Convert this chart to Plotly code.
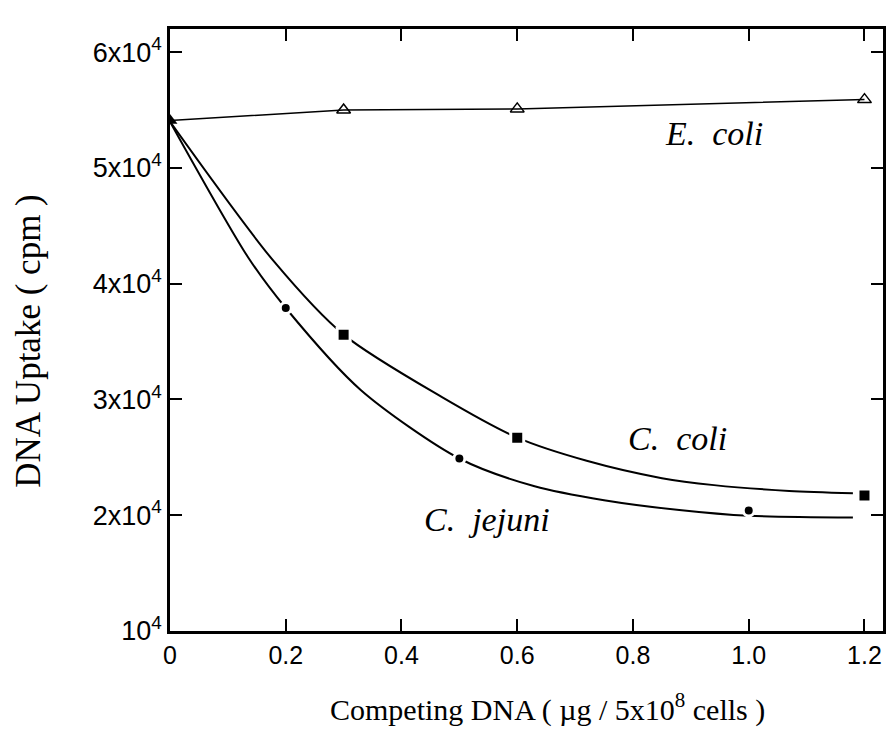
import plotly.graph_objects as go

# ---- data ----
ecoli_x = [0, 0.3, 0.6, 1.2]
ecoli_y = [54100, 55000, 55100, 55900]

ccoli_x = [0.3, 0.6, 1.2]
ccoli_y = [35600, 26700, 21700]

cjej_x = [0.2, 0.5, 1.0]
cjej_y = [37900, 24900, 20400]

# fitted (hand-drawn) curves
ccoli_fit_x = [0, 0.18, 0.3, 0.47, 0.6, 0.72, 0.85, 0.94, 1.07, 1.18]
ccoli_fit_y = [54000, 41900, 35600, 30200, 26700, 24700, 23200, 22600, 22100, 21900]

cjej_fit_x = [0, 0.136, 0.2, 0.33, 0.5, 0.63, 0.75, 0.88, 1.0, 1.18]
cjej_fit_y = [54000, 42200, 37900, 30800, 24900, 22500, 21300, 20450, 19950, 19800]

x_ticks = [0, 0.2, 0.4, 0.6, 0.8, 1.0, 1.2]
x_ticklabels = ["0", "0.2", "0.4", "0.6", "0.8", "1.0", "1.2"]
y_ticks = [10000, 20000, 30000, 40000, 50000, 60000]
y_ticklabels = ["10<sup>4</sup>", "2x10<sup>4</sup>", "3x10<sup>4</sup>",
                "4x10<sup>4</sup>", "5x10<sup>4</sup>", "6x10<sup>4</sup>"]

serif = "Liberation Serif"
sans = "Liberation Sans"

fig = go.Figure()

# curves
fig.add_trace(go.Scatter(x=ccoli_fit_x, y=ccoli_fit_y, mode="lines",
                         line=dict(color="black", width=2, shape="spline", smoothing=0.8),
                         showlegend=False, hoverinfo="skip"))
fig.add_trace(go.Scatter(x=cjej_fit_x, y=cjej_fit_y, mode="lines",
                         line=dict(color="black", width=2, shape="spline", smoothing=0.8),
                         showlegend=False, hoverinfo="skip"))
fig.add_trace(go.Scatter(x=ecoli_x, y=ecoli_y, mode="lines",
                         line=dict(color="black", width=1.5),
                         showlegend=False, hoverinfo="skip"))

# markers (white outline produces the gaps in the curves)
fig.add_trace(go.Scatter(x=ccoli_x, y=ccoli_y, mode="markers",
                         marker=dict(symbol="square", size=13, color="black",
                                     line=dict(color="white", width=3)),
                         showlegend=False))
fig.add_trace(go.Scatter(x=cjej_x, y=cjej_y, mode="markers",
                         marker=dict(symbol="circle", size=11, color="black",
                                     line=dict(color="white", width=3)),
                         showlegend=False))
fig.add_trace(go.Scatter(x=ecoli_x[1:], y=ecoli_y[1:], mode="markers",
                         marker=dict(symbol="triangle-up-open", size=12, color="black",
                                     line=dict(color="black", width=1.5)),
                         showlegend=False))
fig.add_trace(go.Scatter(x=ecoli_x[:1], y=ecoli_y[:1], mode="markers",
                         marker=dict(symbol="triangle-up", size=13, color="black"),
                         showlegend=False))

axis_common = dict(showline=True, linecolor="black", linewidth=2.5, mirror="ticks",
                   ticks="inside", ticklen=12, tickwidth=2, tickcolor="black",
                   showgrid=False, zeroline=False)

fig.update_xaxes(range=[0, 1.232], tickvals=x_ticks, ticktext=x_ticklabels,
                 tickfont=dict(family=sans, size=25, color="black"), **axis_common)
fig.update_yaxes(range=[10000, 62000], tickvals=y_ticks, ticktext=y_ticklabels,
                 tickfont=dict(family=sans, size=27, color="black"), **axis_common)

annotations = [
    dict(text="DNA Uptake ( cpm )", xref="paper", yref="paper", x=-0.228, y=0.482,
         textangle=-90, showarrow=False, font=dict(family=serif, size=35, color="black")),
    dict(text="Competing DNA ( \u00b5g / 5x10<sup>8</sup> cells )", xref="paper", yref="paper",
         x=0.53, y=-0.163, showarrow=False, font=dict(family=serif, size=30, color="black")),
    dict(text="<i>E.\u00a0 coli</i>", x=0.94, y=53000, xref="x", yref="y", showarrow=False,
         font=dict(family=serif, size=34, color="black")),
    dict(text="<i>C.\u00a0 coli</i>", x=0.877, y=26600, xref="x", yref="y", showarrow=False,
         font=dict(family=serif, size=34, color="black")),
    dict(text="<i>C.\u00a0 jejuni</i>", x=0.548, y=19600, xref="x", yref="y", showarrow=False,
         font=dict(family=serif, size=34, color="black")),
]

fig.update_layout(width=890, height=753, margin=dict(l=170, r=4, t=29, b=122),
                  paper_bgcolor="white", plot_bgcolor="white",
                  annotations=annotations, showlegend=False)

fig.write_html("out.html")
